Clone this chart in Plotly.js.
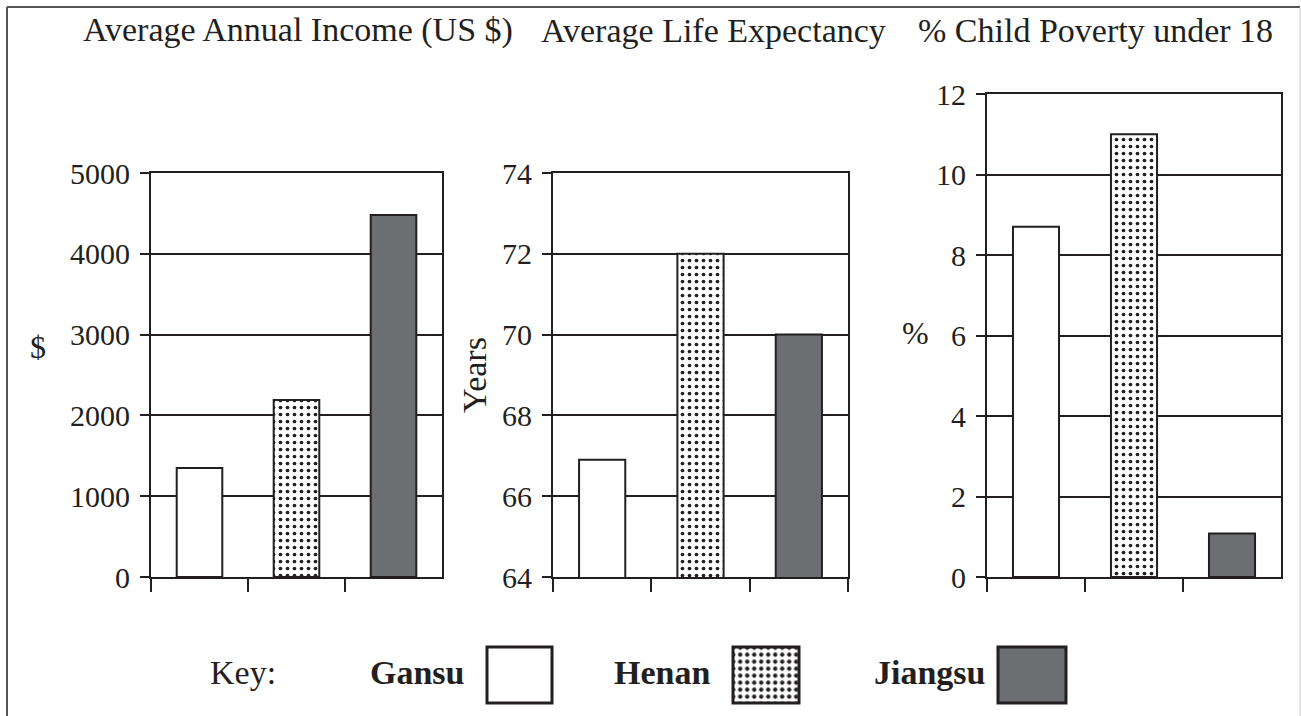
<!DOCTYPE html>
<html><head><meta charset="utf-8">
<script src="https://cdn.plot.ly/plotly-3.0.1.min.js"></script>
<style>html,body{margin:0;padding:0;background:#fff;} #chart{width:1301px;height:716px;}</style>
</head><body><div id="chart"></div>
<script>
// ---- data ----
const regions = ["Gansu", "Henan", "Jiangsu"];
const incomeValues = [1350, 2190, 4480];
const lifeValues = [66.9, 72, 70];
const povertyValues = [8.7, 11, 1.08];
const incomeTicks = [0, 1000, 2000, 3000, 4000, 5000];
const lifeTicks = [64, 66, 68, 70, 72, 74];
const povertyTicks = [0, 2, 4, 6, 8, 10, 12];
const panelTitles = ["Average Annual Income (US $)", "Average Life Expectancy", "% Child Poverty under 18"];
const axisLabels = ["$", "Years", "%"];
const keyLabel = "Key:";
const swatchValues = [1, 1, 1];

// ---- styles ----
const W = 1301, H = 716;
const INK = "#231f20";
const FONT = "Liberation Serif";
const fills = ["#ffffff", "#ffffff", "#6d6e72"];
const patterns = ["", ".", ""];
const px = v => v / W;
const py = v => 1 - v / H;

function regionMarker(i, lineW, pSize, pSolid) {
  const m = {color: fills[i], line: {color: INK, width: lineW}};
  if (patterns[i]) {
    m.pattern = {shape: patterns[i], fgcolor: INK, bgcolor: "#ffffff", size: pSize, solidity: pSolid, fillmode: "replace"};
  }
  return m;
}

const traces = [];
[[incomeValues, "x", "y"], [lifeValues, "x2", "y2"], [povertyValues, "x3", "y3"]].forEach(p => {
  regions.forEach((r, i) => {
    traces.push({
      type: "bar", x: [r], y: [p[0][i]], xaxis: p[1], yaxis: p[2], width: 0.47,
      showlegend: false, hoverinfo: "skip",
      marker: regionMarker(i, 2, 7, 0.22)
    });
  });
});

// legend swatches (one tiny hidden subplot each)
const swatchBoxes = [[519.5, 65], [766, 66], [1032, 68]];
const swatchCY = 675, swatchH = 56;
regions.forEach((r, i) => {
  traces.push({
    type: "bar", x: [r], y: [swatchValues[i]], width: 1,
    xaxis: "x" + (i + 4), yaxis: "y" + (i + 4),
    showlegend: false, hoverinfo: "skip",
    marker: regionMarker(i, 3, 7, 0.3)
  });
});

function xAxis(x0, x1) {
  return {
    domain: [px(x0), px(x1)], type: "category", categoryorder: "array", categoryarray: regions,
    showgrid: false, zeroline: false,
    showline: true, mirror: true, linecolor: INK, linewidth: 2,
    ticks: "outside", tickson: "boundaries", ticklen: 13, tickwidth: 2, tickcolor: INK,
    showticklabels: false, fixedrange: true
  };
}
function yAxis(top, range, tickvals, anchor) {
  return {
    domain: [py(577), py(top)], range: range, tickvals: tickvals, anchor: anchor,
    showgrid: true, gridcolor: INK, gridwidth: 2, zeroline: false,
    showline: true, mirror: true, linecolor: INK, linewidth: 2,
    ticks: "outside", ticklen: 9, tickwidth: 2, tickcolor: INK,
    ticklabelstandoff: 4,
    tickfont: {family: FONT, size: 30, color: INK}, fixedrange: true
  };
}

const layout = {
  width: W, height: H,
  margin: {l: 0, r: 0, t: 0, b: 0},
  paper_bgcolor: "#ffffff", plot_bgcolor: "#ffffff",
  showlegend: false,
  barmode: "overlay",
  xaxis: Object.assign(xAxis(151, 442), {anchor: "y"}),
  yaxis: yAxis(173, [0, 5000], incomeTicks, "x"),
  xaxis2: Object.assign(xAxis(553, 848), {anchor: "y2"}),
  yaxis2: yAxis(173, [64, 74], lifeTicks, "x2"),
  xaxis3: Object.assign(xAxis(987, 1281), {anchor: "y3"}),
  yaxis3: yAxis(94, [0, 12], povertyTicks, "x3"),
  annotations: [],
  shapes: [
    {type: "line", xref: "paper", yref: "paper", x0: px(7), x1: px(7), y0: py(7), y1: -0.02, line: {color: "#555555", width: 2}},
    {type: "line", xref: "paper", yref: "paper", x0: px(7), x1: px(1300), y0: py(7), y1: py(7), line: {color: "#555555", width: 2}},
    {type: "line", xref: "paper", yref: "paper", x0: px(1300), x1: px(1300), y0: py(7), y1: -0.02, line: {color: "#c8c8c8", width: 1}}
  ]
};

swatchBoxes.forEach((b, i) => {
  const [cx, w] = b;
  layout["xaxis" + (i + 4)] = {domain: [px(cx - 0.55 * w), px(cx + 0.55 * w)], range: [-0.55, 0.55], visible: false, anchor: "y" + (i + 4), fixedrange: true};
  layout["yaxis" + (i + 4)] = {domain: [py(swatchCY + 0.55 * swatchH), py(swatchCY - 0.55 * swatchH)], range: [-0.05, 1.05], visible: false, anchor: "x" + (i + 4), fixedrange: true};
});

function ann(text, x, y, opts) {
  return Object.assign({
    text: text, xref: "paper", yref: "paper", x: px(x), y: py(y),
    xanchor: "center", yanchor: "middle", showarrow: false,
    font: {family: FONT, size: 34, color: INK}
  }, opts || {});
}
const titleX = [298, 713, 1095];
panelTitles.forEach((t, i) => layout.annotations.push(ann(t, titleX[i], 30)));
layout.annotations.push(ann(axisLabels[0], 38, 347, {font: {family: FONT, size: 32, color: INK}}));
layout.annotations.push(ann(axisLabels[1], 474, 375, {textangle: -90}));
layout.annotations.push(ann(axisLabels[2], 915, 333, {font: {family: FONT, size: 32, color: INK}}));
layout.annotations.push(ann(keyLabel, 242.5, 672));
const keyTextRight = [467, 712, 988];
regions.forEach((r, i) => layout.annotations.push(ann("<b>" + r + "</b>", keyTextRight[i], 672, {xanchor: "right"})));

Plotly.newPlot("chart", traces, layout, {staticPlot: true, displayModeBar: false});
</script>
</body></html>
